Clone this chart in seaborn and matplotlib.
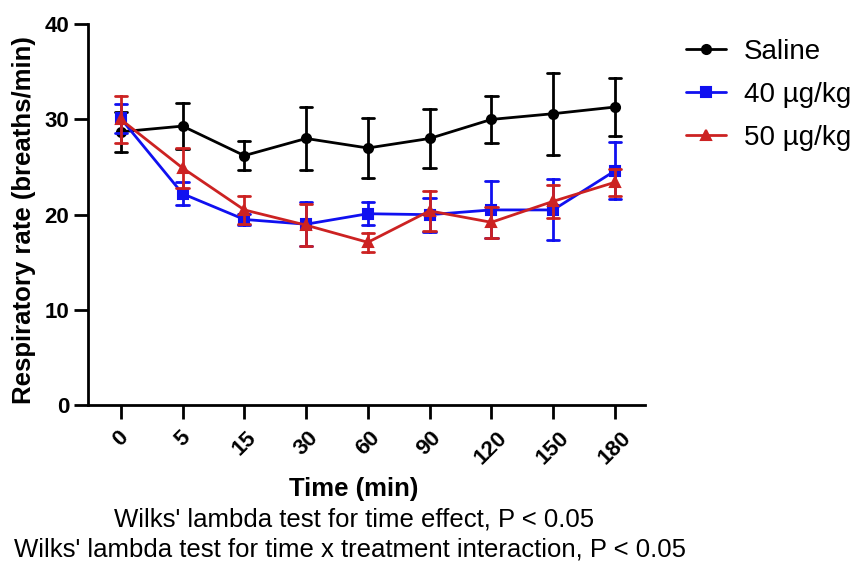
import numpy as np
import pandas as pd
import matplotlib
matplotlib.use("Agg")
import matplotlib.pyplot as plt
import seaborn as sns

sns.set_theme(style="white")
plt.rcParams['font.family'] = ['Liberation Sans', 'DejaVu Sans']
plt.rcParams['text.color'] = 'black'
plt.rcParams['xtick.color'] = 'black'
plt.rcParams['ytick.color'] = 'black'

# time points (min)
times = ["0", "5", "15", "30", "60", "90", "120", "150", "180"]
groups = ["Saline", "40 µg/kg", "50 µg/kg"]

# mean respiratory rate and SEM
saline_mean = [28.7, 29.3, 26.2, 28.0, 27.0, 28.0, 30.0, 30.6, 31.3]
saline_sem = [2.1, 2.4, 1.5, 3.3, 3.2, 3.1, 2.5, 4.3, 3.0]
d40_mean = [30.1, 22.2, 19.5, 19.0, 20.1, 20.0, 20.5, 20.5, 24.6]
d40_sem = [1.5, 1.2, 0.6, 2.3, 1.2, 1.8, 3.0, 3.2, 3.0]
d50_mean = [30.0, 24.9, 20.5, 18.9, 17.1, 20.4, 19.2, 21.4, 23.4]
d50_sem = [2.5, 2.1, 1.5, 2.2, 1.0, 2.1, 1.6, 1.7, 1.4]

colors = {"Saline": "black", "40 µg/kg": "#1010f0", "50 µg/kg": "#cc2222"}

# mean -/+ sem rows so the point estimate is the mean and the min-max band is the SEM
rows = []
for g, means, sems in zip(groups, [saline_mean, d40_mean, d50_mean],
                          [saline_sem, d40_sem, d50_sem]):
    for t, m, s in zip(times, means, sems):
        for k in (-1, 0, 1):
            rows.append({"Time": t, "rate": m + k * s, "group": g})
df = pd.DataFrame(rows)

fig = plt.figure(figsize=(8.61, 5.62), dpi=100)
ax = fig.add_axes([0.102, 0.279, 0.647, 0.678])

sns.pointplot(data=df, x="Time", y="rate", hue="group", order=times,
              hue_order=groups, palette=colors, markers=["o", "s", "^"],
              estimator="mean", errorbar=("pi", 100), capsize=0.2,
              err_kws={"linewidth": 2}, linewidth=2, markersize=6.5,
              dodge=False, ax=ax)

ax.set_xlim(-0.534, 8.486)
ax.set_ylim(0, 40)
ax.set_yticks([0, 10, 20, 30, 40])
ax.set_xlabel("")
ax.set_ylabel("")
sns.despine(ax=ax)
for sp in ["left", "bottom"]:
    ax.spines[sp].set_linewidth(2)
    ax.spines[sp].set_color("black")
ax.tick_params(axis="both", direction="out", length=10, width=2, color="black",
               labelcolor="black", bottom=True, left=True)
for lab in ax.get_yticklabels():
    lab.set_fontsize(16)
    lab.set_fontweight("bold")
for lab in ax.get_xticklabels():
    lab.set_fontsize(16)
    lab.set_fontweight("bold")
    lab.set_rotation(45)
    lab.set_ha("center")
ax.tick_params(axis="x", pad=6)
ax.grid(False)

leg = ax.legend(loc="upper left", bbox_to_anchor=(672 / 861, 0.955),
                bbox_transform=fig.transFigure, frameon=False, fontsize=20,
                borderpad=0, handlelength=1.45, handletextpad=0.65,
                labelspacing=0.6)
for t in leg.get_texts():
    t.set_color("black")

fig.text(24 / 861, 1 - 220 / 562, "Respiratory rate (breaths/min)",
         rotation=90, ha="center", va="center", fontsize=18.5, fontweight="bold")
fig.text(354 / 861, 1 - 489 / 562, "Time (min)", ha="center", va="center",
         fontsize=18.5, fontweight="bold")
fig.text(354 / 861, 1 - 519 / 562, "Wilks' lambda test for time effect, P < 0.05",
         ha="center", va="center", fontsize=18.5)
fig.text(350 / 861, 1 - 549 / 562,
         "Wilks' lambda test for time x treatment interaction, P < 0.05",
         ha="center", va="center", fontsize=18.5)

fig.savefig("out.png", dpi=100)
